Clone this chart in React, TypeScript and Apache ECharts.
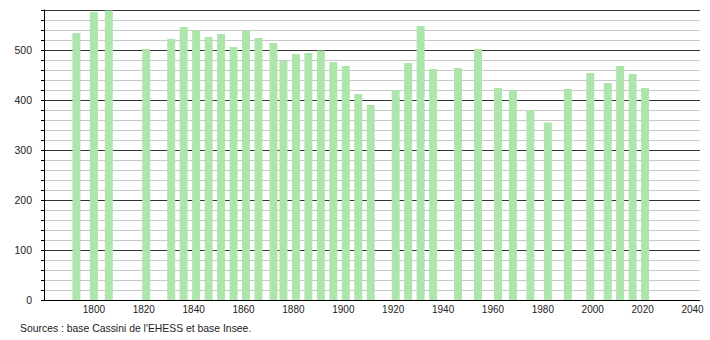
import React, { useEffect, useRef } from "react";
import * as echarts from "echarts";

const years = [1793, 1800, 1806, 1821, 1831, 1836, 1841, 1846, 1851, 1856, 1861, 1866, 1872, 1876, 1881, 1886, 1891, 1896, 1901, 1906, 1911, 1921, 1926, 1931, 1936, 1946, 1954, 1962, 1968, 1975, 1982, 1990, 1999, 2006, 2011, 2016, 2021];
const population = [534, 576, 579, 502, 522, 546, 540, 526, 532, 506, 539, 524, 514, 479, 492, 494, 499, 476, 468, 412, 390, 420, 474, 548, 462, 464, 502, 424, 420, 380, 355, 422, 454, 434, 468, 452, 424];
const sourceText = "Sources : base Cassini de l'EHESS et base Insee.";

export default function App() {
  const ref = useRef<HTMLDivElement>(null);
  useEffect(() => {
    document.body.style.margin = "0";
    const chart = echarts.init(ref.current!, null, { renderer: "svg" });
    const font = "'Liberation Sans', Arial, sans-serif";
    chart.setOption({
      animation: false,
      grid: { left: 44, right: 10, top: 10, bottom: 40, containLabel: false },
      xAxis: {
        type: "value",
        min: 1780,
        max: 2043,
        interval: 20,
        axisLine: { show: true, lineStyle: { color: "#000", width: 1 } },
        axisTick: { show: false },
        splitLine: { show: false },
        axisLabel: {
          color: "#222",
          fontSize: 10,
          fontFamily: font,
          margin: 4,
          showMinLabel: false,
          showMaxLabel: false,
          formatter: (v: number) => (v % 20 === 0 && v > 1780 ? String(v) : ""),
        },
      },
      yAxis: {
        type: "value",
        min: 0,
        max: 580,
        interval: 100,
        axisLine: { show: true, lineStyle: { color: "#000", width: 1 } },
        axisTick: { show: true, length: 3, lineStyle: { color: "#000" } },
        minorTick: { show: true, splitNumber: 5, length: 3, lineStyle: { color: "#000" } },
        splitLine: { show: true, lineStyle: { color: "#333", width: 1 } },
        minorSplitLine: { show: true, lineStyle: { color: "#c8c8c8", width: 1 } },
        axisLabel: {
          color: "#222",
          fontSize: 10.5,
          fontFamily: font,
          margin: 12,
          showMaxLabel: false,
          formatter: (v: number) => (v % 100 === 0 ? String(v) : ""),
        },
      },
      series: [
        {
          type: "bar",
          data: years.map((y, i) => [y, population[i]]),
          barWidth: 8,
          itemStyle: { color: "#ade5ad" },
        },
      ],
      graphic: [
        {
          type: "text",
          left: 20,
          top: 323,
          style: { text: sourceText, fontSize: 10.4, fontFamily: font, fill: "#222" },
        },
      ],
    });
    return () => chart.dispose();
  }, []);
  return <div ref={ref} style={{ width: 710, height: 340 }} />;
}
